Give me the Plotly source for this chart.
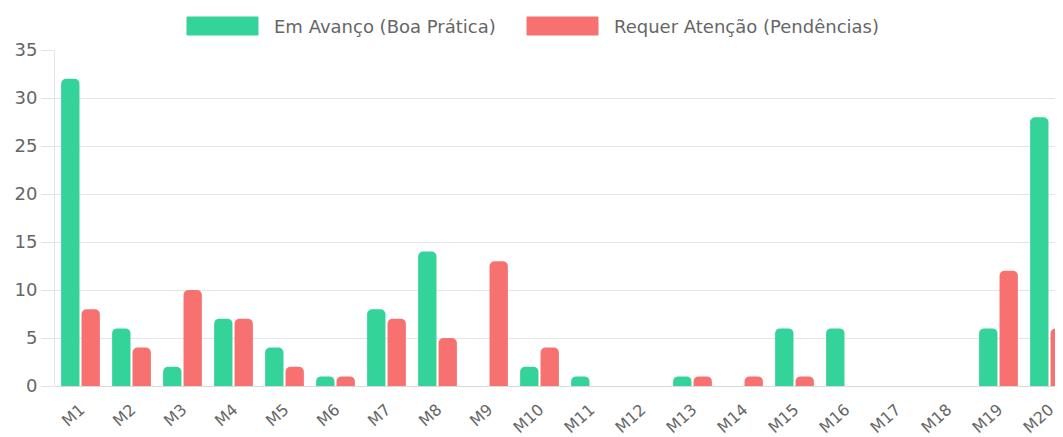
import plotly.graph_objects as go

categories = [f"M{i}" for i in range(1, 21)]
em_avanco = [32, 6, 2, 7, 4, 1, 8, 14, 0, 2, 1, 0, 1, 0, 6, 6, 0, 0, 6, 28]
requer_atencao = [8, 4, 10, 7, 2, 1, 7, 5, 13, 4, 0, 0, 1, 1, 1, 0, 0, 0, 12, 6]
series_names = ["Em Avanço (Boa Prática)", "Requer Atenção (Pendências)"]
y_ticks = [0, 5, 10, 15, 20, 25, 30, 35]

GREEN = "#34d399"
RED = "#f87171"
TEXT = "#666666"
GRID = "#e5e5e5"
FONT = "DejaVu Sans"

fig = go.Figure()
fig.add_bar(x=categories, y=em_avanco, name=series_names[0],
            marker=dict(color=GREEN, cornerradius=5, line=dict(width=0)), showlegend=False)
fig.add_bar(x=categories, y=requer_atencao, name=series_names[1],
            marker=dict(color=RED, cornerradius=5, line=dict(width=0)), showlegend=False)

# page body has an 8px margin: work in screen pixels and compensate
OFF = 8
W, H = 1063, 437
PL, PT, PB = 55, 50, 386    # plot area edges in screen pixels
CAT_W = 51.0                # category width in pixels
L = PL - OFF
T = PT - OFF
R = 0
B = H - (PB - OFF)
pw, ph = W - L - R, H - T - B
x_end = -0.5 + pw / CAT_W

def px(x):
    return (x - PL) / pw

def py(y):
    return (PB - y) / ph

# custom legend (large colour boxes like the original)
legend_items = [(187, 258, 272, GREEN, series_names[0]), (527, 598, 612, RED, series_names[1])]
for x0, x1, tx, col, name in legend_items:
    fig.add_shape(type="rect", xref="paper", yref="paper",
                  x0=px(x0), x1=px(x1), y0=py(35), y1=py(17),
                  fillcolor=col, line=dict(color=col, width=1))
    fig.add_annotation(xref="paper", yref="paper", x=px(tx), y=py(26),
                       xanchor="left", yanchor="middle", showarrow=False,
                       text=name, font=dict(family=FONT, size=18, color=TEXT))

fig.update_layout(
    width=W, height=H,
    margin=dict(l=L, r=R, t=T, b=B, pad=0, autoexpand=False),
    paper_bgcolor="white", plot_bgcolor="white",
    barmode="group", bargap=0.2, bargroupgap=0.1,
    font=dict(family=FONT, color=TEXT),
)
fig.update_xaxes(range=[-0.5, x_end], showgrid=False, tickangle=-42,
                 tickfont=dict(family=FONT, size=16, color=TEXT),
                 ticks="outside", ticklen=7, tickcolor="rgba(0,0,0,0)",
                 showline=False, zeroline=False, automargin=False)
fig.update_yaxes(range=[0, 35], tickvals=y_ticks, showgrid=True, gridcolor=GRID, gridwidth=1,
                 showline=True, linecolor=GRID, linewidth=1,
                 ticks="outside", ticklen=13, tickcolor=GRID,
                 zeroline=True, zerolinecolor="#d9d9d9", zerolinewidth=1,
                 tickfont=dict(family=FONT, size=18, color=TEXT), automargin=False)

fig.write_html("out.html")
